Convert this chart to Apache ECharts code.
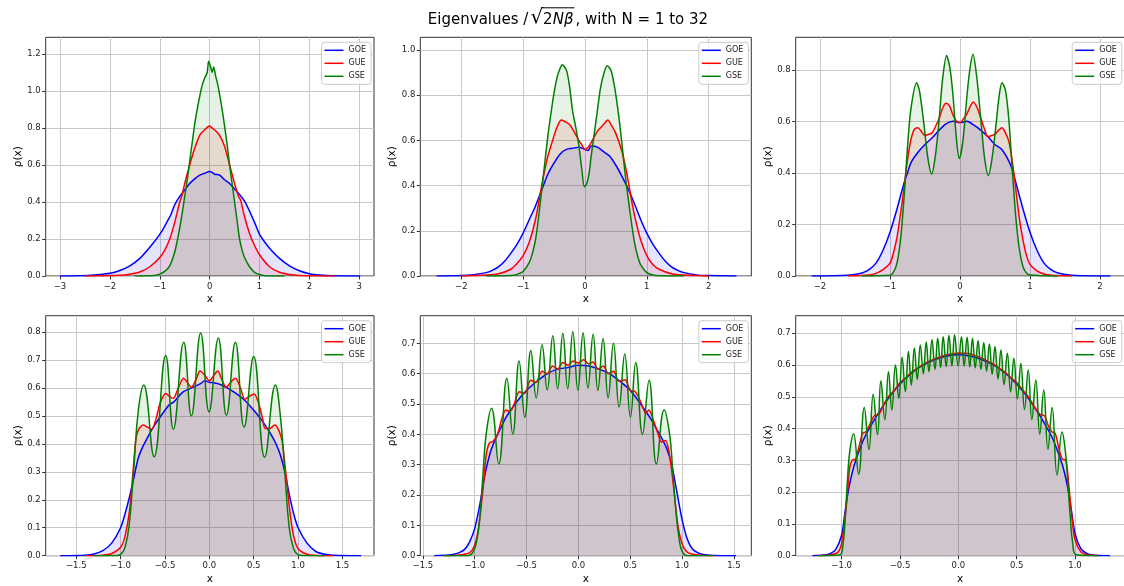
<!DOCTYPE html>
<html>
<head>
<meta charset="utf-8">
<script src="https://cdn.jsdelivr.net/npm/echarts@6/dist/echarts.min.js"></script>
<style>
  html, body { margin: 0; padding: 0; background: #fff; }
  #chart { width: 1124px; height: 586px; }
</style>
</head>
<body>
<div id="chart"></div>
<script>
// ---- data: [x, rho(x)] ----
// N = 1
const p1Goe = [[-3.0,0],[-2.6,0.001],[-2.3,0.006],[-2.0,0.015],[-1.8,0.03],[-1.6,0.055],[-1.4,0.095],[-1.2,0.155],[-1.0,0.225],[-0.9,0.27],[-0.85,0.295],[-0.78,0.33],[-0.7,0.385],[-0.6,0.43],[-0.5,0.465],[-0.4,0.5],[-0.3,0.525],[-0.2,0.545],[-0.1,0.555],[0,0.565],[0.05,0.56],[0.1,0.55],[0.2,0.545],[0.3,0.52],[0.4,0.5],[0.5,0.47],[0.6,0.44],[0.7,0.405],[0.8,0.35],[0.9,0.29],[1.0,0.225],[1.1,0.185],[1.2,0.15],[1.4,0.095],[1.6,0.055],[1.8,0.028],[2.0,0.012],[2.2,0.005],[2.5,0.001],[3.02,0]];
const p1Gue = [[-2.5,0],[-1.8,0.004],[-1.6,0.01],[-1.4,0.022],[-1.2,0.05],[-1.0,0.1],[-0.9,0.14],[-0.8,0.2],[-0.7,0.29],[-0.6,0.4],[-0.55,0.44],[-0.5,0.5],[-0.4,0.6],[-0.3,0.69],[-0.2,0.76],[-0.1,0.79],[0,0.81],[0.05,0.8],[0.1,0.79],[0.2,0.76],[0.3,0.7],[0.4,0.6],[0.5,0.5],[0.58,0.43],[0.62,0.41],[0.7,0.32],[0.8,0.23],[0.9,0.165],[1.0,0.115],[1.2,0.05],[1.4,0.02],[1.6,0.008],[1.8,0.003],[2.5,0]];
const p1Gse = [[-1.5,0],[-1.1,0.003],[-1.0,0.01],[-0.9,0.025],[-0.8,0.055],[-0.7,0.13],[-0.65,0.19],[-0.6,0.26],[-0.55,0.34],[-0.5,0.43],[-0.45,0.52],[-0.4,0.62],[-0.35,0.72],[-0.3,0.82],[-0.25,0.9],[-0.2,0.97],[-0.15,1.03],[-0.1,1.07],[-0.05,1.1],[-0.02,1.16],[0.02,1.13],[0.05,1.1],[0.08,1.13],[0.12,1.08],[0.15,1.05],[0.2,0.98],[0.25,0.9],[0.3,0.81],[0.35,0.71],[0.4,0.6],[0.45,0.5],[0.5,0.4],[0.55,0.3],[0.6,0.2],[0.65,0.14],[0.7,0.1],[0.8,0.05],[0.9,0.02],[1.0,0.008],[1.1,0.002],[1.5,0]];
// N = 2
const p2Goe = [[-2.4,0],[-2.0,0.002],[-1.8,0.006],[-1.6,0.015],[-1.5,0.025],[-1.4,0.04],[-1.3,0.065],[-1.2,0.1],[-1.1,0.14],[-1.0,0.19],[-0.9,0.25],[-0.8,0.31],[-0.7,0.38],[-0.6,0.45],[-0.5,0.5],[-0.4,0.54],[-0.3,0.56],[-0.2,0.565],[-0.1,0.57],[0,0.56],[0.05,0.555],[0.1,0.575],[0.2,0.57],[0.3,0.55],[0.4,0.53],[0.5,0.49],[0.6,0.44],[0.7,0.385],[0.8,0.32],[0.9,0.25],[1.0,0.19],[1.1,0.14],[1.2,0.1],[1.3,0.065],[1.4,0.04],[1.5,0.025],[1.6,0.015],[1.8,0.005],[2.0,0.002],[2.45,0]];
const p2Gue = [[-2.0,0],[-1.6,0.004],[-1.4,0.01],[-1.2,0.03],[-1.1,0.055],[-1.0,0.09],[-0.9,0.15],[-0.8,0.25],[-0.7,0.4],[-0.65,0.47],[-0.6,0.53],[-0.5,0.62],[-0.45,0.66],[-0.38,0.69],[-0.3,0.68],[-0.25,0.67],[-0.2,0.65],[-0.1,0.6],[-0.05,0.58],[0,0.56],[0.05,0.57],[0.1,0.59],[0.2,0.64],[0.3,0.67],[0.37,0.69],[0.42,0.67],[0.5,0.63],[0.6,0.55],[0.65,0.49],[0.7,0.42],[0.75,0.34],[0.8,0.27],[0.9,0.16],[1.0,0.09],[1.1,0.05],[1.2,0.03],[1.4,0.01],[1.6,0.004],[2.0,0]];
const p2Gse = [[-1.6,0],[-1.2,0.002],[-1.1,0.007],[-1.0,0.02],[-0.9,0.06],[-0.85,0.1],[-0.8,0.16],[-0.75,0.26],[-0.7,0.38],[-0.65,0.5],[-0.6,0.62],[-0.55,0.72],[-0.5,0.81],[-0.45,0.88],[-0.4,0.92],[-0.37,0.935],[-0.3,0.91],[-0.25,0.84],[-0.2,0.73],[-0.15,0.66],[-0.1,0.58],[-0.05,0.47],[-0.01,0.395],[0.03,0.41],[0.07,0.46],[0.1,0.53],[0.15,0.63],[0.2,0.73],[0.25,0.83],[0.3,0.89],[0.36,0.93],[0.42,0.91],[0.47,0.85],[0.5,0.8],[0.55,0.7],[0.6,0.58],[0.65,0.45],[0.7,0.34],[0.75,0.24],[0.8,0.15],[0.85,0.09],[0.9,0.05],[1.0,0.015],[1.1,0.005],[1.2,0.001],[1.6,0]];
// N = 4
const p3Goe = [[-2.12,0],[-1.6,0.003],[-1.4,0.012],[-1.3,0.025],[-1.2,0.05],[-1.1,0.1],[-1.0,0.17],[-0.9,0.26],[-0.8,0.36],[-0.75,0.4],[-0.7,0.44],[-0.6,0.48],[-0.5,0.51],[-0.4,0.535],[-0.3,0.565],[-0.2,0.59],[-0.1,0.6],[0,0.595],[0.1,0.6],[0.2,0.585],[0.3,0.565],[0.4,0.54],[0.5,0.51],[0.6,0.49],[0.7,0.445],[0.75,0.41],[0.8,0.36],[0.9,0.26],[1.0,0.17],[1.1,0.1],[1.2,0.05],[1.3,0.025],[1.4,0.012],[1.6,0.003],[2.15,0]];
const p3Gue = [[-1.6,0],[-1.3,0.004],[-1.2,0.01],[-1.1,0.025],[-1.0,0.05],[-0.95,0.09],[-0.9,0.15],[-0.85,0.24],[-0.8,0.34],[-0.75,0.45],[-0.7,0.53],[-0.65,0.57],[-0.6,0.575],[-0.55,0.56],[-0.5,0.545],[-0.45,0.55],[-0.4,0.555],[-0.35,0.58],[-0.3,0.61],[-0.25,0.65],[-0.2,0.67],[-0.15,0.66],[-0.1,0.625],[-0.05,0.6],[0,0.595],[0.05,0.61],[0.1,0.63],[0.15,0.66],[0.19,0.675],[0.25,0.65],[0.3,0.61],[0.35,0.57],[0.4,0.54],[0.45,0.545],[0.5,0.55],[0.55,0.565],[0.6,0.575],[0.65,0.555],[0.7,0.52],[0.75,0.44],[0.8,0.33],[0.85,0.22],[0.9,0.14],[0.95,0.08],[1.0,0.045],[1.1,0.02],[1.2,0.008],[1.3,0.003],[1.6,0]];
const p3Gse = [[-1.4,0],[-1.0,0.003],[-0.95,0.015],[-0.9,0.05],[-0.85,0.14],[-0.8,0.3],[-0.75,0.5],[-0.7,0.65],[-0.62,0.75],[-0.58,0.72],[-0.52,0.6],[-0.46,0.46],[-0.405,0.395],[-0.35,0.47],[-0.3,0.6],[-0.25,0.76],[-0.19,0.855],[-0.14,0.8],[-0.1,0.7],[-0.05,0.53],[-0.01,0.456],[0.04,0.52],[0.1,0.7],[0.14,0.8],[0.185,0.86],[0.24,0.77],[0.3,0.6],[0.35,0.46],[0.405,0.39],[0.46,0.46],[0.52,0.6],[0.56,0.7],[0.6,0.75],[0.65,0.72],[0.7,0.6],[0.75,0.4],[0.8,0.22],[0.85,0.1],[0.9,0.036],[0.95,0.012],[1.0,0.004],[1.4,0]];
// N = 8
const p4Goe = [[-1.68,0],[-1.4,0.002],[-1.3,0.006],[-1.2,0.018],[-1.1,0.045],[-1.0,0.1],[-0.95,0.15],[-0.9,0.21],[-0.85,0.28],[-0.8,0.35],[-0.75,0.39],[-0.7,0.42],[-0.65,0.45],[-0.6,0.475],[-0.5,0.52],[-0.45,0.54],[-0.4,0.55],[-0.3,0.585],[-0.2,0.6],[-0.1,0.615],[-0.05,0.625],[0,0.62],[0.1,0.615],[0.2,0.6],[0.3,0.58],[0.4,0.555],[0.5,0.52],[0.6,0.48],[0.7,0.43],[0.75,0.4],[0.8,0.36],[0.85,0.3],[0.9,0.22],[0.95,0.15],[1.0,0.1],[1.1,0.045],[1.2,0.015],[1.3,0.005],[1.4,0.002],[1.71,0]];
const p4Gue = [[-1.4,0],[-1.2,0.002],[-1.1,0.008],[-1.0,0.03],[-0.95,0.07],[-0.9,0.16],[-0.86,0.3],[-0.83,0.41],[-0.8,0.45],[-0.744,0.467],[-0.7,0.46],[-0.65,0.452],[-0.6,0.49],[-0.55,0.55],[-0.49,0.58],[-0.45,0.57],[-0.406,0.563],[-0.35,0.6],[-0.29,0.634],[-0.25,0.62],[-0.203,0.602],[-0.15,0.63],[-0.105,0.66],[-0.05,0.645],[0,0.625],[0.05,0.645],[0.094,0.66],[0.14,0.63],[0.19,0.602],[0.24,0.62],[0.293,0.634],[0.35,0.6],[0.4,0.559],[0.45,0.57],[0.503,0.578],[0.55,0.55],[0.6,0.49],[0.627,0.455],[0.68,0.455],[0.736,0.467],[0.78,0.45],[0.82,0.41],[0.85,0.33],[0.88,0.24],[0.91,0.15],[0.95,0.07],[1.0,0.025],[1.1,0.005],[1.2,0.001],[1.4,0]];
const p4Gse = [[-1.3,0],[-1.05,0.001],[-1.0,0.005],[-0.95,0.03],[-0.9,0.12],[-0.85,0.32],[-0.8,0.52],[-0.74,0.61],[-0.623,0.354],[-0.492,0.716],[-0.406,0.452],[-0.289,0.763],[-0.203,0.5],[-0.098,0.796],[-0.004,0.514],[0.101,0.778],[0.192,0.502],[0.293,0.763],[0.391,0.459],[0.499,0.712],[0.623,0.352],[0.744,0.61],[0.8,0.5],[0.85,0.3],[0.9,0.1],[0.95,0.025],[1.0,0.004],[1.05,0.001],[1.3,0]];
// N = 16
const p5Goe = [[-1.39,0],[-1.25,0.002],[-1.2,0.005],[-1.15,0.01],[-1.1,0.02],[-1.05,0.045],[-1.0,0.09],[-0.95,0.17],[-0.9,0.27],[-0.85,0.34],[-0.8,0.385],[-0.75,0.42],[-0.7,0.455],[-0.6,0.505],[-0.5,0.545],[-0.4,0.575],[-0.3,0.6],[-0.2,0.615],[-0.1,0.62],[0,0.628],[0.1,0.625],[0.2,0.615],[0.3,0.6],[0.4,0.575],[0.5,0.545],[0.6,0.5],[0.7,0.45],[0.75,0.42],[0.8,0.39],[0.85,0.355],[0.9,0.3],[0.95,0.21],[1.0,0.12],[1.05,0.055],[1.1,0.022],[1.15,0.01],[1.2,0.004],[1.3,0.001],[1.52,0]];
const p5Gue = [[-1.3,0],[-1.15,0.002],[-1.05,0.01],[-1.0,0.035],[-0.96,0.1],[-0.92,0.22],[-0.89,0.33],[-0.86,0.37],[-0.82,0.378],[-0.78,0.4],[-0.74,0.45],[-0.7,0.48],[-0.66,0.475],[-0.62,0.5],[-0.57,0.54],[-0.52,0.535],[-0.46,0.578],[-0.41,0.572],[-0.35,0.608],[-0.3,0.6],[-0.25,0.625],[-0.2,0.615],[-0.15,0.637],[-0.1,0.628],[-0.05,0.642],[0,0.635],[0.05,0.646],[0.1,0.632],[0.14,0.638],[0.19,0.615],[0.24,0.625],[0.29,0.6],[0.34,0.608],[0.39,0.575],[0.45,0.58],[0.5,0.545],[0.55,0.54],[0.61,0.5],[0.65,0.47],[0.68,0.48],[0.72,0.45],[0.77,0.4],[0.8,0.375],[0.84,0.38],[0.87,0.35],[0.9,0.28],[0.93,0.19],[0.96,0.1],[1.0,0.04],[1.05,0.012],[1.15,0.002],[1.3,0]];
const p5Gse = [[-1.3,0],[-1.07,0],[-1.02,0.01],[-0.98,0.05],[-0.95,0.13],[-0.92,0.27],[-0.89,0.4],[-0.838,0.486],[-0.768,0.302],[-0.69,0.585],[-0.633,0.401],[-0.572,0.642],[-0.517,0.456],[-0.459,0.676],[-0.407,0.52],[-0.35,0.695],[-0.301,0.546],[-0.247,0.725],[-0.2,0.55],[-0.15,0.733],[-0.103,0.55],[-0.054,0.738],[-0.005,0.545],[0.045,0.735],[0.092,0.553],[0.142,0.73],[0.188,0.545],[0.238,0.716],[0.287,0.52],[0.338,0.7],[0.393,0.49],[0.447,0.665],[0.502,0.457],[0.553,0.637],[0.618,0.4],[0.682,0.578],[0.753,0.302],[0.827,0.481],[0.88,0.4],[0.91,0.28],[0.94,0.15],[0.97,0.06],[1.0,0.015],[1.05,0],[1.3,0]];
// N = 32
const p6Goe = [[-1.25,0],[-1.15,0.002],[-1.1,0.006],[-1.05,0.02],[-1.0,0.065],[-0.97,0.14],[-0.94,0.21],[-0.9,0.275],[-0.85,0.33],[-0.8,0.375],[-0.7,0.44],[-0.6,0.495],[-0.5,0.54],[-0.4,0.575],[-0.3,0.6],[-0.2,0.617],[-0.1,0.628],[0,0.632],[0.1,0.628],[0.2,0.617],[0.3,0.6],[0.4,0.575],[0.5,0.54],[0.6,0.495],[0.7,0.44],[0.8,0.375],[0.85,0.33],[0.9,0.275],[0.94,0.21],[0.97,0.14],[1.0,0.07],[1.05,0.022],[1.1,0.007],[1.15,0.002],[1.3,0]];
const p6Gue = [[-1.2,0],[-1.1,0.002],[-1.03,0.012],[-1.0,0.04],[-0.97,0.12],[-0.95,0.2],[-0.93,0.28],[-0.91,0.3],[-0.88,0.305],[-0.85,0.345],[-0.82,0.385],[-0.79,0.39],[-0.75,0.42],[-0.72,0.44],[-0.68,0.445],[-0.64,0.475],[-0.6,0.5],[-0.55,0.52],[-0.5,0.545],[-0.45,0.56],[-0.4,0.578],[-0.35,0.59],[-0.3,0.602],[-0.25,0.612],[-0.2,0.62],[-0.15,0.626],[-0.1,0.632],[-0.05,0.635],[0,0.638],[0.05,0.637],[0.1,0.635],[0.15,0.628],[0.2,0.622],[0.25,0.612],[0.3,0.603],[0.35,0.59],[0.4,0.578],[0.45,0.56],[0.5,0.545],[0.55,0.522],[0.6,0.5],[0.65,0.47],[0.7,0.445],[0.74,0.44],[0.77,0.41],[0.8,0.39],[0.83,0.385],[0.86,0.34],[0.89,0.305],[0.92,0.3],[0.94,0.25],[0.96,0.17],[0.98,0.1],[1.0,0.05],[1.05,0.012],[1.1,0.003],[1.2,0]];
const p6Gse = [[-1.2,0],[-1.02,0.002],[-0.99,0.03],[-0.97,0.12],[-0.95,0.24],[-0.93,0.33],[-0.898,0.384],[-0.855,0.256],[-0.806,0.466],[-0.766,0.334],[-0.73,0.508],[-0.693,0.381],[-0.664,0.55],[-0.63,0.428],[-0.599,0.579],[-0.57,0.458],[-0.539,0.6],[-0.51,0.495],[-0.482,0.624],[-0.454,0.516],[-0.428,0.642],[-0.403,0.537],[-0.377,0.653],[-0.352,0.555],[-0.326,0.663],[-0.3,0.572],[-0.275,0.672],[-0.252,0.579],[-0.226,0.679],[-0.2,0.586],[-0.177,0.684],[-0.152,0.592],[-0.13,0.689],[-0.104,0.595],[-0.081,0.693],[-0.055,0.597],[-0.032,0.695],[-0.002,0.597],[0.027,0.689],[0.05,0.596],[0.075,0.687],[0.098,0.594],[0.121,0.684],[0.145,0.591],[0.169,0.677],[0.193,0.586],[0.218,0.671],[0.242,0.58],[0.266,0.666],[0.29,0.571],[0.314,0.658],[0.34,0.556],[0.365,0.647],[0.392,0.538],[0.42,0.637],[0.448,0.516],[0.476,0.621],[0.506,0.494],[0.536,0.605],[0.567,0.46],[0.599,0.584],[0.63,0.428],[0.664,0.553],[0.698,0.383],[0.732,0.521],[0.768,0.335],[0.804,0.466],[0.846,0.254],[0.889,0.389],[0.92,0.32],[0.94,0.22],[0.96,0.12],[0.98,0.04],[1.01,0.003],[1.2,0]];

// tick labels
const p1XTicks = [-3, -2, -1, 0, 1, 2, 3];
const p2XTicks = [-2, -1, 0, 1, 2];
const p3XTicks = [-2, -1, 0, 1, 2];
const p4XTicks = [-1.5, -1.0, -0.5, 0.0, 0.5, 1.0, 1.5];
const p5XTicks = [-1.5, -1.0, -0.5, 0.0, 0.5, 1.0, 1.5];
const p6XTicks = [-1.0, -0.5, 0.0, 0.5, 1.0];
const p1YTicks = [0, 0.2, 0.4, 0.6, 0.8, 1.0, 1.2];
const p2YTicks = [0, 0.2, 0.4, 0.6, 0.8, 1.0];
const p3YTicks = [0, 0.2, 0.4, 0.6, 0.8];
const p4YTicks = [0, 0.1, 0.2, 0.3, 0.4, 0.5, 0.6, 0.7, 0.8];
const p5YTicks = [0, 0.1, 0.2, 0.3, 0.4, 0.5, 0.6, 0.7];
const p6YTicks = [0, 0.1, 0.2, 0.3, 0.4, 0.5, 0.6, 0.7];

const names = ['GOE', 'GUE', 'GSE'];
const colors = ['#0000ff', '#ff0000', '#008000'];
const FONT = '"DejaVu Sans", sans-serif';

// layout of the six panels: [left, top, width, height]
const panels = [
  { d: [p1Goe, p1Gue, p1Gse], xt: p1XTicks, yt: p1YTicks, xMin: -3.287, xMax: 3.295, yMax: 1.29, xDec: 0, sm: 0.3, box: [45.7, 37.3, 328.3, 238.7] },
  { d: [p2Goe, p2Gue, p2Gse], xt: p2XTicks, yt: p2YTicks, xMin: -2.663, xMax: 2.69, yMax: 1.056, xDec: 0, sm: 0.3, box: [420.3, 37.3, 331, 238.7] },
  { d: [p3Goe, p3Gue, p3Gse], xt: p3XTicks, yt: p3YTicks, xMin: -2.347, xMax: 2.353, yMax: 0.926, xDec: 0, sm: 0.3, box: [795.7, 37.3, 329, 238.7] },
  { d: [p4Goe, p4Gue, p4Gse], xt: p4XTicks, yt: p4YTicks, xMin: -1.844, xMax: 1.855, yMax: 0.858, xDec: 1, sm: 0.45, box: [45.7, 315.7, 328.3, 240] },
  { d: [p5Goe, p5Gue, p5Gse], xt: p5XTicks, yt: p5YTicks, xMin: -1.525, xMax: 1.668, yMax: 0.791, xDec: 1, sm: 0.45, box: [420.3, 315.7, 331, 240] },
  { d: [p6Goe, p6Gue, p6Gse], xt: p6XTicks, yt: p6YTicks, xMin: -1.394, xMax: 1.426, yMax: 0.755, xDec: 1, sm: 0.45, box: [795.7, 315.7, 329, 240] }
];

const minus = s => s.replace('-', '\u2212');
const tickColor = '#333';
const gridColor = '#c8c8c8';

const series = [];
panels.forEach((p, i) => {
  p.d.forEach((data, k) => {
    series.push({
      name: names[k],
      type: 'line',
      xAxisIndex: i,
      yAxisIndex: i,
      data: data,
      symbol: 'none',
      smooth: k === 2 ? p.sm : 0.3,
      lineStyle: { color: colors[k], width: 1.5 },
      itemStyle: { color: colors[k] },
      areaStyle: { color: colors[k], opacity: 0.1 },
      z: 2
    });
  });
});

// title: measure the pieces so the radical bar sits over 2Nβ
const ctx = document.createElement('canvas').getContext('2d');
function textW(str, size, style) {
  ctx.font = (style || '') + ' ' + size + 'px ' + FONT;
  return ctx.measureText(str).width;
}
const tSize = 15, radSize = 20;
const part1 = 'Eigenvalues /', part3 = ', with N = 1 to 32';
const w1 = textW(part1, tSize) + 2;
const wr = textW('\u221a', radSize);
const w2a = textW('2', tSize);
const w2b = textW('N\u03b2', tSize, 'italic');
const w3 = textW(part3, tSize);
const total = w1 + wr + w2a + w2b + 2 + w3;
const tx0 = 568 - total / 2;
const txR = tx0 + w1;
const tx2 = txR + wr;
const tx3 = tx2 + w2a + w2b + 2;
const titleText = (text, x, y, size, italic) => ({
  type: 'text', x: x, y: y, silent: true,
  style: { text: text, fill: '#000', font: (italic ? 'italic ' : '') + size + 'px ' + FONT, align: 'left', verticalAlign: 'middle' }
});

const option = {
  animation: false,
  backgroundColor: '#fff',
  textStyle: { fontFamily: FONT },
  grid: panels.map(p => ({
    left: p.box[0], top: p.box[1], width: p.box[2], height: p.box[3],
    show: true, borderColor: '#333', borderWidth: 1, backgroundColor: 'transparent',
    containLabel: false, outerBoundsMode: 'none'
  })),
  xAxis: panels.map((p, i) => ({
    type: 'value', gridIndex: i, min: p.xMin, max: p.xMax,
    name: 'x', nameLocation: 'middle', nameGap: 18,
    nameTextStyle: { fontSize: 10.5, color: '#000', fontFamily: FONT },
    axisLine: { show: false, onZero: false },
    axisTick: { show: true, length: 3.5, customValues: p.xt, lineStyle: { color: tickColor } },
    axisLabel: { customValues: p.xt, fontSize: 8.5, color: '#222', margin: 6, fontFamily: FONT,
      formatter: v => minus(p.xDec ? v.toFixed(p.xDec) : String(Math.round(v))) },
    splitLine: { show: true, lineStyle: { color: gridColor, width: 1 } }
  })),
  yAxis: panels.map((p, i) => ({
    type: 'value', gridIndex: i, min: 0, max: p.yMax,
    name: '\u03c1(x)', nameLocation: 'middle', nameGap: 22,
    nameTextStyle: { fontSize: 10.5, color: '#000', fontFamily: FONT },
    axisLine: { show: false, onZero: false },
    axisTick: { show: true, length: 3.5, customValues: p.yt, lineStyle: { color: tickColor } },
    axisLabel: { customValues: p.yt, fontSize: 8.5, color: '#222', margin: 5, fontFamily: FONT,
      formatter: v => v.toFixed(1) },
    splitLine: { show: true, lineStyle: { color: gridColor, width: 1 } }
  })),
  legend: panels.map(p => ({
    data: names, orient: 'vertical', icon: 'rect',
    left: p.box[0] + p.box[2] - 52.5, top: p.box[1] + 5,
    itemWidth: 19, itemHeight: 1.5, itemGap: 5, padding: [4, 5, 4, 3],
    borderColor: '#cccccc', borderWidth: 1, borderRadius: 3,
    backgroundColor: 'rgba(255,255,255,0.8)',
    selectedMode: false,
    textStyle: { fontSize: 8, color: '#222', fontFamily: FONT, lineHeight: 8 }
  })),
  graphic: [
    titleText(part1, tx0, 20, tSize, false),
    titleText('\u221a', txR, 18, radSize, false),
    titleText('2', tx2, 20, tSize, false),
    titleText('N\u03b2', tx2 + w2a, 20, tSize, true),
    titleText(part3, tx3, 20, tSize, false),
    { type: 'line', silent: true, shape: { x1: tx2 - 1.5, y1: 7.8, x2: tx3 - 1, y2: 7.8 }, style: { stroke: '#000', lineWidth: 1 } }
  ],
  series: series
};

const myChart = echarts.init(document.getElementById('chart'));
myChart.setOption(option);
window.addEventListener('resize', () => myChart.resize(), false);
</script>
</body>
</html>
